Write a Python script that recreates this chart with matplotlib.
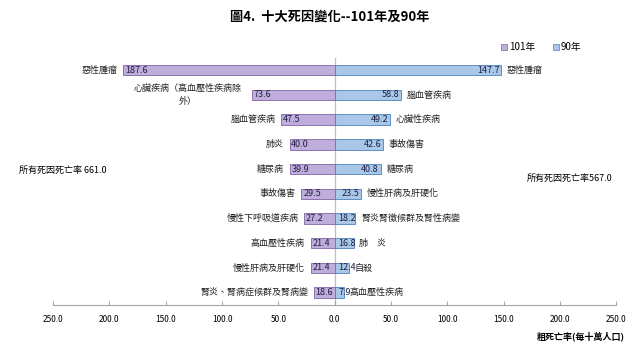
import matplotlib
matplotlib.use("Agg")
import matplotlib.pyplot as plt
from matplotlib.lines import Line2D
import numpy as np

plt.rcParams['font.family'] = ['Noto Sans CJK TC', 'DejaVu Sans']

# 101年 (left side)
cause_101 = ["惡性腫瘤", "心臟疾病（高血壓性疾病除\n外）", "腦血管疾病", "肺炎", "糖尿病",
             "事故傷害", "慢性下呼吸道疾病", "高血壓性疾病", "慢性肝病及肝硬化",
             "腎炎、腎病症候群及腎病變"]
rate_101 = [187.6, 73.6, 47.5, 40.0, 39.9, 29.5, 27.2, 21.4, 21.4, 18.6]

# 90年 (right side)
cause_90 = ["惡性腫瘤", "腦血管疾病", "心臟性疾病", "事故傷害", "糖尿病",
            "慢性肝病及肝硬化", "腎炎腎徵候群及腎性病變", "肺　炎", "自殺", "高血壓性疾病"]
rate_90 = [147.7, 58.8, 49.2, 42.6, 40.8, 23.5, 18.2, 16.8, 12.4, 7.9]

total_101 = 661.0
total_90 = 567.0
xticks = [-250, -200, -150, -100, -50, 0, 50, 100, 150, 200, 250]

purple, purple_edge = "#bfaedb", "#8064a2"
blue, blue_edge = "#a9c8e8", "#4f81bd"

fig = plt.figure(figsize=(6.4, 3.53), dpi=100)
ax = fig.add_axes([0.083, 0.136, 0.88, 0.70])

y = np.arange(len(rate_101))
ax.barh(y, [-v for v in rate_101], height=0.42, color=purple, edgecolor=purple_edge, linewidth=0.6, zorder=2)
ax.barh(y, rate_90, height=0.42, color=blue, edgecolor=blue_edge, linewidth=0.6, zorder=2)
ax.axvline(0, color="#bfbfbf", lw=0.9, zorder=1)

fs = 6.5
for i, (name, v) in enumerate(zip(cause_101, rate_101)):
    ax.text(-v + 1.5, i, f"{v:.1f}", ha="left", va="center", fontsize=fs, color="#1f1f3f", zorder=3)
    if "\n" in name:
        # wrapped label, centred over its two lines
        ax.text(-v - 57, i, name, ha="center", va="center", fontsize=fs,
                color="#222222", multialignment="center", linespacing=1.6)
    else:
        ax.text(-v - 5, i, name, ha="right", va="center", fontsize=fs, color="#222222")

for i, (name, v) in enumerate(zip(cause_90, rate_90)):
    if v < 20:
        ax.text(3, i, f"{v:.1f}", ha="left", va="center", fontsize=fs, color="#1f1f3f", zorder=3)
    else:
        ax.text(v - 1.5, i, f"{v:.1f}", ha="right", va="center", fontsize=fs, color="#1f1f3f", zorder=3)
    ax.text(v + 5, i, name, ha="left", va="center", fontsize=fs, color="#222222")

ax.set_xlim(-250, 250)
ax.set_ylim(len(rate_101) - 0.5, -0.5)
ax.set_xticks(xticks)
ax.set_xticklabels([f"{abs(t):.1f}" for t in xticks], fontsize=6)
ax.set_yticks([])
for s in ["top", "left", "right"]:
    ax.spines[s].set_visible(False)
ax.spines["bottom"].set_color("#a6a6a6")
ax.tick_params(axis="x", direction="in", length=3, color="#a6a6a6", pad=7)

fig.text(0.515, 0.952, "圖4.  十大死因變化--101年及90年", ha="center", va="center",
         fontsize=9.5, fontweight="bold")
fig.text(0.03, 0.518, f"所有死因死亡率 {total_101:.1f}", ha="left", va="center", fontsize=fs)
fig.text(0.823, 0.495, f"所有死因死亡率{total_90:.1f}", ha="left", va="center", fontsize=fs)
fig.text(0.977, 0.048, "粗死亡率(每十萬人口)", ha="right", va="center", fontsize=6.5, fontweight="bold")

handles = [Line2D([], [], marker="s", ls="", markersize=4, markerfacecolor=purple, markeredgecolor=purple_edge, markeredgewidth=0.5),
           Line2D([], [], marker="s", ls="", markersize=4, markerfacecolor=blue, markeredgecolor=blue_edge, markeredgewidth=0.5)]
fig.legend(handles, ["101年", "90年"], loc="center", bbox_to_anchor=(0.845, 0.867), ncol=2,
           frameon=False, fontsize=7, handletextpad=0.1, columnspacing=1.8, handlelength=0.8)

fig.savefig("out.png", dpi=100)
